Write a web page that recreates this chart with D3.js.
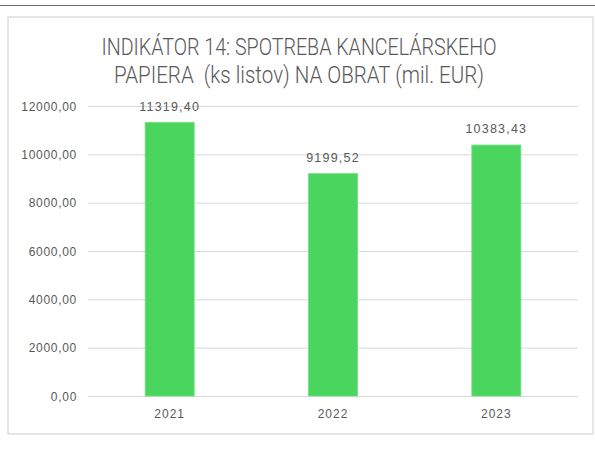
<!DOCTYPE html>
<html>
<head>
<meta charset="utf-8">
<script src="https://cdn.jsdelivr.net/npm/d3@7"></script>
<style>
  body { margin: 0; background: #fff; }
  svg { display: block; }
  .tick-label { font-family: "Liberation Sans", Arial, sans-serif; font-size: 12px; fill: #595959; letter-spacing: 0.7px; }
  .title { font-family: Roboto, "Liberation Sans", sans-serif; font-weight: 300; font-size: 23.5px; fill: #595959; white-space: pre; }
</style>
</head>
<body>
<svg id="chart"></svg>
<script>
// data

const years = ['2021', '2022', '2023'];
const values = [11319.40, 9199.52, 10383.43];
const yTicks = [0, 2000, 4000, 6000, 8000, 10000, 12000];
const titleLines = ['INDIKÁTOR 14: SPOTREBA KANCELÁRSKEHO', 'PAPIERA  (ks listov) NA OBRAT (mil. EUR)'];

// sizes

let width = 595;
let height = 459;
let plotLeft = 88;
let plotRight = 578;
let plotTop = 106;
let plotBottom = 396;
let titleWidths = [395, 370]; // measured line lengths, title font is condensed

const fmt = v => v.toFixed(2).replace('.', ',');

let svg = d3.select('#chart')
    .attr('width', width)
    .attr('height', height);

// top rule and chart frame
svg.append('line')
    .attr('x1', 0).attr('x2', width)
    .attr('y1', 5.5).attr('y2', 5.5)
    .style('stroke', '#6e6e6e')
    .style('stroke-width', 1.2);

svg.append('rect')
    .attr('x', 8).attr('y', 17)
    .attr('width', 585).attr('height', 417)
    .style('fill', 'white')
    .style('stroke', '#dedede')
    .style('stroke-width', 1.5);

// scales

let xScale = d3.scaleBand()
    .domain(years)
    .range([plotLeft, plotRight])
    .paddingInner(0.7)
    .paddingOuter(0.35);

let yScale = d3.scaleLinear()
    .domain([0, 12000])
    .range([plotBottom, plotTop]);

// y axis with gridlines
svg.append('g')
    .attr('transform', `translate(${plotLeft}, 0)`)
    .call(d3.axisRight(yScale)
        .tickValues(yTicks)
        .tickSize(plotRight - plotLeft)
        .tickFormat(fmt))
    .call(g => g.select('.domain').remove())
    .call(g => g.selectAll('.tick line')
        .style('stroke', '#d9d9d9')
        .style('stroke-width', 1))
    .call(g => g.selectAll('.tick text')
        .attr('class', 'tick-label')
        .attr('x', -11)
        .attr('dy', '0.35em')
        .style('text-anchor', 'end'));

// x axis labels
svg.append('g')
    .attr('transform', `translate(0, ${plotBottom})`)
    .call(d3.axisBottom(xScale).tickSize(0))
    .call(g => g.select('.domain').remove())
    .call(g => g.selectAll('.tick text')
        .attr('class', 'tick-label')
        .attr('y', 18)
        .attr('dy', '0.35em')
        .style('letter-spacing', '1px'));

// bars
svg.append('g')
    .selectAll('rect')
    .data(values)
    .enter()
    .append('rect')
    .attr('x', (d, i) => xScale(years[i]))
    .attr('y', d => yScale(d))
    .attr('width', xScale.bandwidth())
    .attr('height', d => plotBottom - yScale(d))
    .style('fill', '#4ad55e')
    .style('stroke', '#6ee07d')
    .style('stroke-width', 0.8);

// value labels
svg.append('g')
    .selectAll('text')
    .data(values)
    .enter()
    .append('text')
    .attr('class', 'tick-label')
    .attr('x', (d, i) => xScale(years[i]) + xScale.bandwidth() / 2)
    .attr('y', d => yScale(d) - 16)
    .attr('dy', '0.35em')
    .style('text-anchor', 'middle')
    .style('font-size', '12.5px')
    .style('letter-spacing', '1.2px')
    .text(fmt);

// title
svg.append('g')
    .selectAll('text')
    .data(titleLines)
    .enter()
    .append('text')
    .attr('class', 'title')
    .attr('x', (d, i) => 299 - titleWidths[i] / 2)
    .attr('y', (d, i) => 55 + i * 28)
    .attr('textLength', (d, i) => titleWidths[i])
    .attr('lengthAdjust', 'spacingAndGlyphs')
    .text(d => d);
</script>
</body>
</html>
